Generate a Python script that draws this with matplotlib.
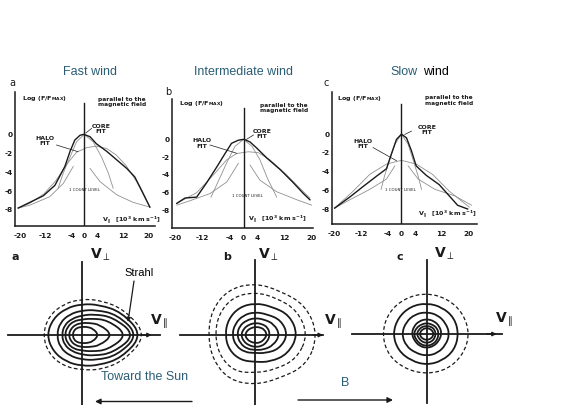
import numpy as np
import matplotlib.pyplot as plt
from matplotlib.path import Path
from matplotlib.patches import PathPatch

W, H = 579, 405
TEAL = '#2b5d75'
INK = '#1a1a1a'
FIT = '#909090'

plt.rcParams['mathtext.default'] = 'regular'

# ---------------- top row: log(F/Fmax) cuts along B ----------------
xticks = [-20, -12, -4, 0, 4, 12, 20]
yticks = [0, -2, -4, -6, -8]

# fast wind (a)
fast_meas_v = [-20.5, -12.7, -9.1, -6.0, -4.4, -2.9, -1.3, -0.1, 1.8, 3.8, 7.0, 10.1, 13.2, 15.7, 17.8, 20.4]
fast_meas_f = [-7.8, -6.5, -5.4, -3.4, -1.8, -0.6, -0.1, 0.0, -0.25, -1.0, -1.8, -2.7, -3.6, -4.5, -5.9, -7.7]
fast_halo_v = [-20.5, -16.9, -12.5, -8.8, -5.5, -2.4, 0.8, 3.8, 7.0, 10.0, 13.0, 16.3, 20.4]
fast_halo_f = [-7.8, -7.3, -6.3, -4.9, -3.2, -1.9, -1.4, -1.25, -1.5, -2.2, -3.3, -5.0, -7.7]
fast_core_v = [-8.1, -6.5, -4.4, -2.4, 0.0, 2.8, 5.4, 7.5, 9.0]
fast_core_f = [-5.7, -4.1, -2.4, -0.8, 0.0, -0.8, -2.4, -4.1, -5.7]
fast_cnt_l_v = [-20.5, -16.9, -10.7, -6.5, -3.4]
fast_cnt_l_f = [-7.8, -7.5, -6.6, -5.2, -3.4]
fast_cnt_r_v = [1.8, 4.9, 10.1, 15.2, 20.4]
fast_cnt_r_f = [-3.6, -5.0, -6.4, -7.2, -7.7]

# intermediate wind (b)
int_meas_v = [-19.5, -17.1, -13.7, -10.8, -7.8, -5.4, -3.5, -1.5, 0.15, 1.9, 3.9, 6.8, 10.7, 14.6, 17.5, 19.4]
int_meas_f = [-7.2, -6.6, -6.5, -4.9, -3.1, -1.6, -0.45, -0.1, 0.0, -0.3, -1.0, -2.1, -3.4, -4.9, -6.1, -6.8]
int_halo_v = [-19.5, -13.7, -8.8, -4.9, -2.0, 1.4, 4.3, 7.7, 12.6, 17.5, 19.4]
int_halo_f = [-7.2, -6.0, -4.0, -2.3, -1.6, -1.4, -1.5, -2.3, -4.0, -5.9, -6.6]
int_core_v = [-9.5, -7.0, -4.5, -2.5, 0.0, 2.5, 4.8, 7.0, 9.7]
int_core_f = [-6.5, -4.4, -2.3, -0.8, 0.0, -0.8, -2.3, -4.4, -6.5]
int_cnt_l_v = [-19.5, -15.6, -9.8, -4.9, -1.5]
int_cnt_l_f = [-7.4, -6.9, -6.1, -4.8, -2.7]
int_cnt_r_v = [1.9, 4.8, 9.7, 15.6, 19.9]
int_cnt_r_f = [-2.9, -4.6, -5.9, -6.8, -7.4]

# slow wind (c)
slow_meas_v = [-20.0, -15.4, -11.5, -7.5, -4.5, -3.0, -1.5, 0.0, 1.5, 3.0, 4.4, 7.4, 11.3, 14.3, 16.8, 19.8]
slow_meas_f = [-7.9, -6.7, -5.6, -4.5, -3.7, -2.1, -0.56, 0.0, -0.4, -1.8, -3.4, -4.4, -5.4, -6.6, -7.6, -8.0]
slow_halo_v = [-20.0, -14.5, -9.5, -4.5, 0.0, 4.4, 9.3, 14.3, 20.3]
slow_halo_f = [-7.9, -6.1, -4.3, -3.2, -2.8, -3.2, -4.3, -6.1, -7.8]
slow_core_v = [-6.1, -5.1, -3.6, -2.0, 0.0, 2.0, 3.5, 5.0, 6.0]
slow_core_f = [-5.9, -4.5, -2.8, -1.1, 0.0, -1.1, -2.8, -4.5, -5.9]
slow_cnt_l_v = [-20.0, -15.4, -9.5, -4.5, -2.0]
slow_cnt_l_f = [-7.9, -7.0, -5.9, -4.8, -3.4]
slow_cnt_r_v = [2.0, 5.0, 10.0, 16.0, 21.0]
slow_cnt_r_f = [-3.4, -4.8, -5.9, -6.6, -7.6]

# ---------------- bottom row: contour radii at these angles ----------------
angles = [0, 30, 60, 90, 120, 150, 180, 210, 240, 270, 300, 330]

fast_solid = [
    [17, 13, 9.5, 8, 8.5, 9, 9, 9, 8.5, 8, 9.5, 13],
    [31, 21, 14, 12, 12, 12.5, 13, 12.5, 12, 12, 14, 21],
    [46, 30, 19, 15.5, 16, 16.5, 17, 16.5, 16, 15.5, 19, 30],
    [54, 36, 24, 19.5, 19, 20, 20, 20, 19, 19.5, 24, 36],
    [57, 41, 29, 24.5, 24, 25, 25, 25, 24, 24.5, 29, 41],
    [61, 46, 35, 31, 31, 33, 35, 33, 31, 31, 35, 46],
]
fast_dashed = [
    [65, 50, 40, 36, 36, 38, 39, 38, 36, 35, 40, 50],
]

int_solid = [
    [12, 11, 9, 8, 8, 9, 10, 9, 8, 8, 9, 10],
    [15, 15, 13, 12, 12, 13, 14, 13, 12, 12, 13, 14],
    [25, 22, 18, 17, 17, 18, 18, 17, 16, 15, 17, 21],
    [33, 30, 24, 23, 23, 23, 23, 22, 20, 18, 21, 28],
    [43, 40, 33, 32, 32, 31, 30, 30, 29, 27, 31, 38],
]
int_dashed = [
    [53, 49, 43, 43, 44, 42, 40, 41, 42, 38, 40, 48],
    [63, 59, 51, 52, 53, 50, 47, 49, 52, 50, 50, 60],
]

slow_solid = [
    [7, 6.5, 6, 6, 6, 6.5, 7, 6.5, 6, 6, 6, 6.5],
    [9, 9, 8.5, 8, 8.5, 9, 10, 9, 9, 9, 9, 9],
    [12, 12, 11, 11, 11, 12, 13, 12, 12, 12, 12, 12],
    [15, 15, 15, 15, 15, 15, 15, 14, 14, 14, 14, 14],
    [23, 22, 22, 22, 23, 24, 25, 24, 22, 22, 22, 22],
    [32, 32, 31, 31, 32, 33, 34, 33, 31, 31, 31, 32],
]
slow_dashed = [
    [43, 42, 41, 41, 42, 44, 45, 44, 41, 40, 41, 42],
]


def px_box(l, t, r, b):
    return [l / W, 1 - b / H, (r - l) / W, (b - t) / H]


def top_panel(box, xlim, ylim, zero_top, meas, halo, core, cnt_l, cnt_r, txt):
    ax = fig.add_axes(px_box(*box))
    ax.patch.set_visible(False)
    ax.set_xlim(xlim)
    ax.set_ylim(ylim)
    for s in ['top', 'right']:
        ax.spines[s].set_visible(False)
    for s in ['left', 'bottom']:
        ax.spines[s].set_linewidth(1.1)
        ax.spines[s].set_color(INK)
    ax.set_xticks(xticks)
    ax.set_xticklabels([str(t) for t in xticks])
    ax.set_yticks(yticks)
    ax.set_yticklabels([str(t) for t in yticks])
    ax.tick_params(length=0, labelsize=5.3, labelcolor=INK)
    ax.tick_params(axis='x', pad=5)
    ax.tick_params(axis='y', pad=1.5)
    for lab in ax.get_xticklabels() + ax.get_yticklabels():
        lab.set_fontweight('bold')

    ax.plot(halo[0], halo[1], color=FIT, lw=0.6)
    ax.plot(core[0], core[1], color=FIT, lw=0.6)
    ax.plot(cnt_l[0], cnt_l[1], color=FIT, lw=0.6)
    ax.plot(cnt_r[0], cnt_r[1], color=FIT, lw=0.6)
    ax.plot(meas[0], meas[1], color=INK, lw=1.0)
    ax.plot([0, 0], [ylim[0], zero_top], color=INK, lw=1.0)

    ax.text(*txt['log'], 'Log (F/F$_{MAX}$)', fontsize=4.6, weight='bold',
            ha='left', va='center', color=INK)
    ax.text(*txt['par'], 'parallel to the\nmagnetic field', fontsize=4.2,
            weight='bold', ha='left', va='center', linespacing=1.05, color=INK)
    ax.text(*txt['halo'], 'HALO\nFIT', fontsize=4.5, weight='bold',
            ha='center', va='center', linespacing=1.1, color=INK)
    ax.text(*txt['core'], 'CORE\nFIT', fontsize=4.5, weight='bold',
            ha='center', va='center', linespacing=1.1, color=INK)
    ax.text(*txt['count'], '1 COUNT LEVEL', fontsize=2.8, ha='center',
            va='center', color=INK)
    ax.text(*txt['vpar'], 'V$_{\\parallel}$  [10$^3$ km s$^{-1}$]', fontsize=4.6,
            weight='bold', ha='left', va='center', color=INK)
    hp, cp = txt['halo_ptr'], txt['core_ptr']
    ax.plot(hp[0], hp[1], color=INK, lw=0.5)
    ax.plot(cp[0], cp[1], color=INK, lw=0.5)
    return ax


def closed_curve(ax, radii, **kw):
    th = np.deg2rad(angles)
    r = np.array(radii, dtype=float)
    pts = np.column_stack([r * np.cos(th), r * np.sin(th)])
    mids = (pts + np.roll(pts, -1, axis=0)) / 2
    verts = [mids[-1]]
    codes = [Path.MOVETO]
    for p, m in zip(pts, mids):
        verts += [p, m]
        codes += [Path.CURVE3, Path.CURVE3]
    ax.add_patch(PathPatch(Path(verts, codes), fill=False, **kw))


def bottom_panel(box, xlim, ylim, hline, vline, head, solid, dashed, letter, vperp_x, vpar_xy):
    ax = fig.add_axes(px_box(*box))
    ax.set_xlim(xlim)
    ax.set_ylim(ylim)
    ax.axis('off')
    ax.plot(hline, [0, 0], color=INK, lw=1.3, clip_on=False)
    ax.plot([0, 0], vline, color=INK, lw=1.3, clip_on=False)
    ax.annotate('', xy=(head, 0), xytext=(head - 10, 0),
                arrowprops=dict(arrowstyle='-|>', color=INK, lw=1.0,
                                mutation_scale=6, shrinkA=0, shrinkB=0))
    for rr in solid:
        closed_curve(ax, rr, edgecolor=INK, lw=1.3)
    for rr in dashed:
        closed_curve(ax, rr, edgecolor=INK, lw=0.9, linestyle=(0, (3, 2)))
    ax.text(letter[0], letter[1], letter[2], fontsize=8, weight='bold',
            ha='center', va='center', color=INK)
    ax.text(vperp_x, 80, '$\\mathbf{V}_{\\perp}$', fontsize=10, ha='left',
            va='center', color=INK)
    ax.text(vpar_xy[0], vpar_xy[1], '$\\mathbf{V}_{\\parallel}$', fontsize=10,
            ha='left', va='center', color=INK)
    return ax


fig = plt.figure(figsize=(W / 100, H / 100), dpi=100)

top_panel((15, 92, 155, 226), (-21.5, 22.0), (-9.7, 4.48), 3.3,
          (fast_meas_v, fast_meas_f), (fast_halo_v, fast_halo_f),
          (fast_core_v, fast_core_f), (fast_cnt_l_v, fast_cnt_l_f),
          (fast_cnt_r_v, fast_cnt_r_f),
          dict(log=(-19.4, 3.84), par=(4.3, 3.45), halo=(-12.2, -0.7),
               core=(5.2, 0.56), count=(0.0, -5.9), vpar=(5.5, -9.07),
               halo_ptr=([-8.6, -1.9], [-1.13, -1.84]),
               core_ptr=([2.3, 0.5], [0.63, 0.14])))

top_panel((172, 99, 313, 228), (-20.9, 20.3), (-9.97, 4.53), 3.5,
          (int_meas_v, int_meas_f), (int_halo_v, int_halo_f),
          (int_core_v, int_core_f), (int_cnt_l_v, int_cnt_l_f),
          (int_cnt_r_v, int_cnt_r_f),
          dict(log=(-18.9, 3.97), par=(4.8, 3.5), halo=(-12.1, -0.47),
               core=(5.4, 0.6), count=(1.2, -6.4), vpar=(1.3, -8.96),
               halo_ptr=([-9.8, -2.0], [-0.64, -1.57]),
               core_ptr=([2.9, 0.9], [0.48, 0.0])))

top_panel((332, 92, 477, 224), (-20.8, 22.6), (-9.6, 4.5), 3.26,
          (slow_meas_v, slow_meas_f), (slow_halo_v, slow_halo_f),
          (slow_core_v, slow_core_f), (slow_cnt_l_v, slow_cnt_l_f),
          (slow_cnt_r_v, slow_cnt_r_f),
          dict(log=(-19.3, 3.8), par=(7.0, 3.6), halo=(-11.6, -1.05),
               core=(7.6, 0.42), count=(-0.2, -6.0), vpar=(4.9, -8.6),
               halo_ptr=([-8.5, -1.5], [-1.44, -2.84]),
               core_ptr=([3.0, 1.0], [0.32, -0.03])))

bottom_panel((0, 255, 165, 405), (-81.7, 83.3), (-70, 80), (-73.7, 78.3), (-70, 73.3), 70,
             fast_solid, fast_dashed, (-66.7, 78, 'a'), 8, (68, 13))
bottom_panel((172, 255, 340, 405), (-83, 85), (-70, 80), (-75, 68), (-70, 75), 68,
             int_solid, int_dashed, (-28, 78, 'b'), 3, (69, 13))
bottom_panel((345, 255, 510, 405), (-81.7, 83.3), (-71, 79), (-75, 75), (-69, 74), 70,
             slow_solid, slow_dashed, (-27, 77, 'c'), 7, (68, 14))

# overlay for titles, panel letters and the direction arrows
ov = fig.add_axes([0, 0, 1, 1])
ov.set_xlim(0, W)
ov.set_ylim(H, 0)
ov.axis('off')

ov.text(90, 72, 'Fast wind', fontsize=9, color=TEAL, ha='center', va='center',
        family='Liberation Sans')
ov.text(244, 72, 'Intermediate wind', fontsize=9, color=TEAL, ha='center',
        va='center', family='Liberation Sans')
ov.text(390, 72, 'Slow', fontsize=9, color=TEAL, ha='left', va='center',
        family='Liberation Sans')
ov.text(423, 72, 'wind', fontsize=9, color='black', ha='left', va='center',
        family='Liberation Sans')

ov.text(12, 83, 'a', fontsize=7, color=INK, ha='center', va='center')
ov.text(168, 92, 'b', fontsize=7, color=INK, ha='center', va='center')
ov.text(326, 83, 'c', fontsize=7, color=INK, ha='center', va='center')

ov.text(139, 273, 'Strahl', fontsize=8, color='black', ha='center', va='center',
        family='Liberation Sans')
ov.annotate('', xy=(128, 322), xytext=(134, 281),
            arrowprops=dict(arrowstyle='-|>', color=INK, lw=0.9,
                            mutation_scale=6, shrinkA=0, shrinkB=0))
ov.text(145, 377, 'Toward the Sun', fontsize=9, color=TEAL, ha='center',
        va='center', family='Liberation Sans')
ov.annotate('', xy=(95, 401.5), xytext=(192, 401.5),
            arrowprops=dict(arrowstyle='-|>', color=INK, lw=1.0,
                            mutation_scale=8, shrinkA=0, shrinkB=0))
ov.text(345, 383, 'B', fontsize=9, color=TEAL, ha='center', va='center',
        family='Liberation Sans')
ov.annotate('', xy=(393, 400), xytext=(298, 400),
            arrowprops=dict(arrowstyle='-|>', color=INK, lw=1.0,
                            mutation_scale=8, shrinkA=0, shrinkB=0))

fig.savefig('out.png', dpi=100)
